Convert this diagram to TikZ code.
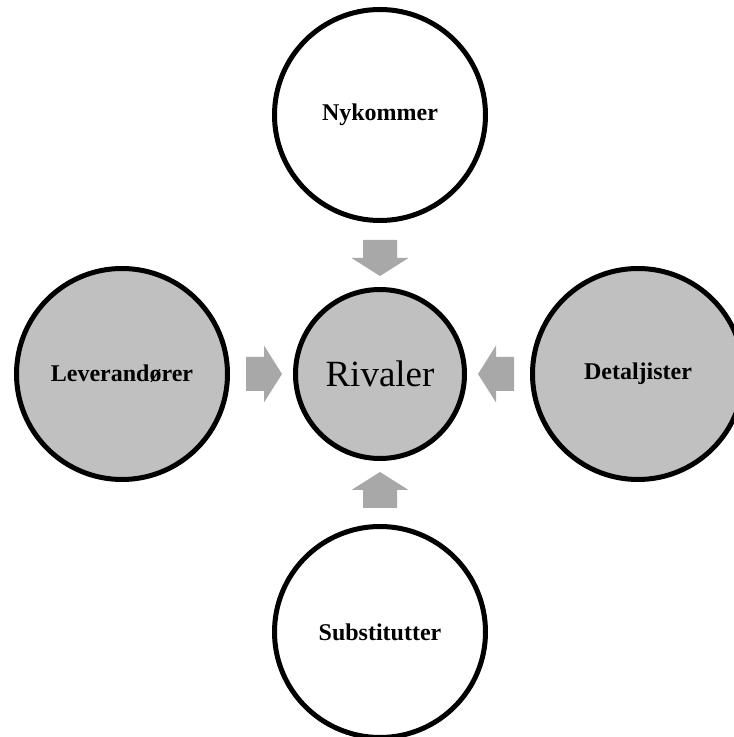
\documentclass[tikz,border=0pt]{standalone}
\usepackage{fontspec}
\setmainfont{Liberation Serif}
\definecolor{discfill}{RGB}{192,192,192}
\definecolor{arrowfill}{RGB}{168,168,168}
\tikzset{
  force/.style={circle, draw=black, line width=5pt, minimum size=211pt, inner sep=0pt,
    font=\fontsize{24}{28}\selectfont\bfseries},
  hub/.style={circle, draw=black, line width=5pt, fill=discfill, minimum size=169pt,
    inner sep=0pt, font=\fontsize{37}{42}\selectfont},
  blockarrow/.style={fill=arrowfill}
}
% block arrow pointing at the hub from direction #2 (degrees)
\newcommand\pointer[2]{%
  \begin{scope}[shift={(#1.center)}, rotate=#2]
    \fill[blockarrow] (134,-17) -- (116,-17) -- (116,-28.5) -- (98,0)
      -- (116,28.5) -- (116,17) -- (134,17) -- cycle;
  \end{scope}}
\begin{document}
\begin{tikzpicture}[x=1pt, y=1pt]
  \useasboundingbox (0,0) rectangle (734,737);
  \node[hub] (rival) at (380,363) {Rivaler};
  \node[force] (entrant) at (380,622) {Nykommer};
  \node[force] (subst) at (380,105) {Substitutter};
  \node[force, fill=discfill] (supplier) at (122,363) {Leverandører};
  \node[force, fill=discfill] (retail) at (638,363) {Detaljister};
  \pointer{rival}{90}
  \pointer{rival}{-90}
  \pointer{rival}{180}
  \pointer{rival}{0}
\end{tikzpicture}
\end{document}
